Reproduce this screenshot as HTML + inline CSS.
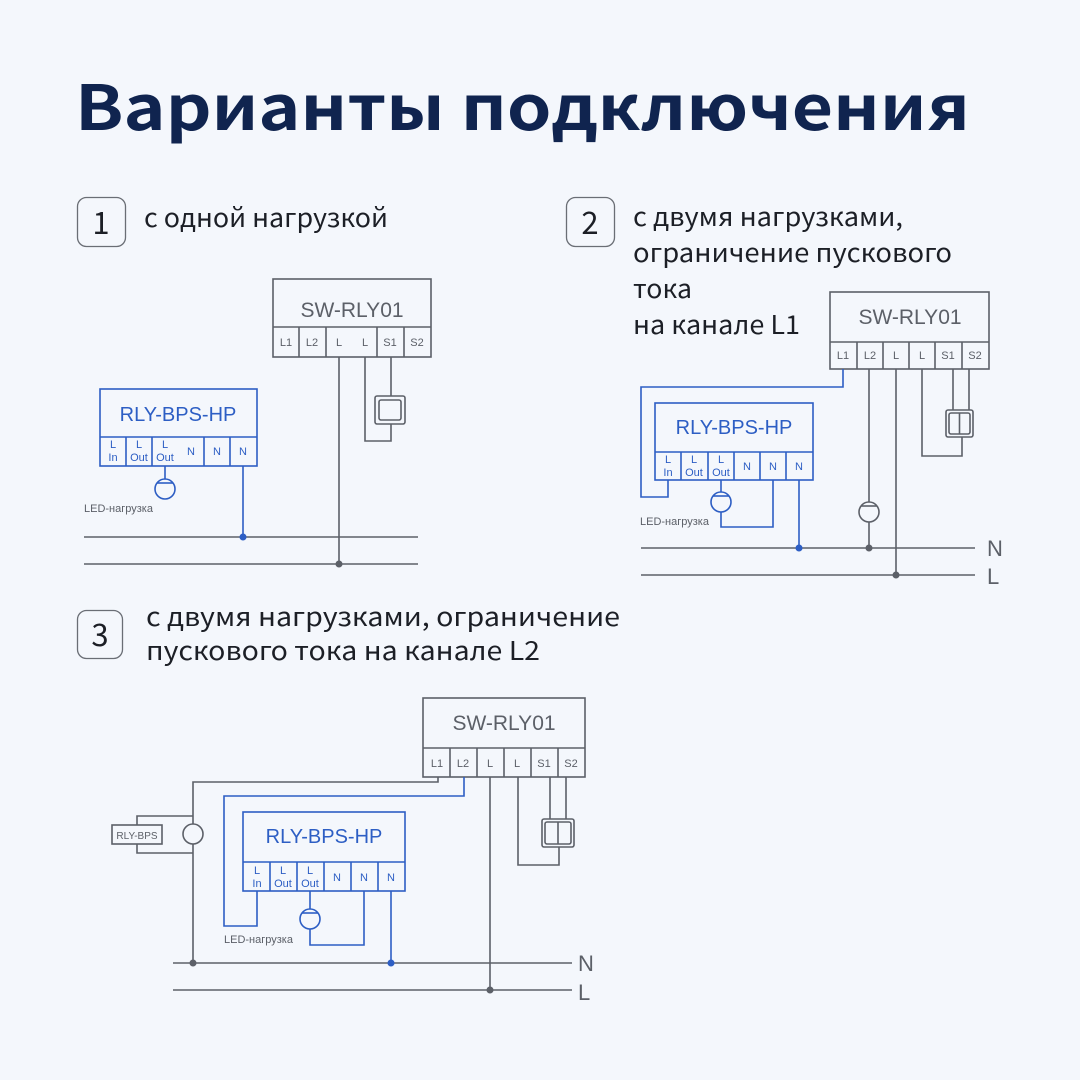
<!DOCTYPE html>
<html><head><meta charset="utf-8"><style>
html,body{margin:0;padding:0;background:#f4f7fc}
svg{display:block}
.h{font-family:"Noto Sans CJK SC","Liberation Sans",sans-serif}
</style></head><body>
<svg width="1080" height="1080" viewBox="0 0 1080 1080" xmlns="http://www.w3.org/2000/svg" font-family="Liberation Sans, sans-serif">
<rect width="1080" height="1080" fill="#f4f7fc"/>
<text class="h" x="75" y="130" font-size="62" font-weight="bold" fill="#10244f" textLength="895" lengthAdjust="spacingAndGlyphs">Варианты подключения</text>

<g fill="none" stroke="#6a6e75" stroke-width="1.3">
<rect x="77.5" y="197.5" width="48" height="49" rx="9"/>
<rect x="566.5" y="197.5" width="48" height="49" rx="9"/>
<rect x="77.5" y="610.5" width="45" height="48" rx="9"/>
</g>
<g class="h" fill="#1c1f26" font-size="26">
<text x="101" y="234" font-size="31" text-anchor="middle">1</text>
<text x="590" y="234" font-size="31" text-anchor="middle">2</text>
<text x="100" y="646" font-size="31" text-anchor="middle">3</text>
<text x="144" y="227" textLength="244" lengthAdjust="spacingAndGlyphs">с одной нагрузкой</text>
<text x="633" y="226" textLength="270" lengthAdjust="spacingAndGlyphs">с двумя нагрузками,</text>
<text x="633" y="262" textLength="319" lengthAdjust="spacingAndGlyphs">ограничение пускового</text>
<text x="633" y="298" textLength="59" lengthAdjust="spacingAndGlyphs">тока</text>
<text x="633" y="334" textLength="167" lengthAdjust="spacingAndGlyphs">на канале L1</text>
<text x="146" y="626" textLength="474" lengthAdjust="spacingAndGlyphs">с двумя нагрузками, ограничение</text>
<text x="146" y="660" textLength="394" lengthAdjust="spacingAndGlyphs">пускового тока на канале L2</text>
</g>

<!-- ===== Diagram 1 ===== -->
<g stroke="#5c6068" stroke-width="1.6" fill="none">
<rect x="273" y="279" width="158" height="78"/>
<line x1="273" y1="327" x2="431" y2="327"/>
<line x1="299" y1="327" x2="299" y2="357"/><line x1="326" y1="327" x2="326" y2="357"/>
<line x1="377" y1="327" x2="377" y2="357"/><line x1="404" y1="327" x2="404" y2="357"/>
<line x1="84" y1="537" x2="418" y2="537"/>
<line x1="84" y1="564" x2="418" y2="564"/>
<line x1="339" y1="357" x2="339" y2="564"/>
<polyline points="365,357 365,441 391,441 391,424"/>
<line x1="391" y1="357" x2="391" y2="396"/>
<rect x="375" y="396" width="30" height="28" rx="2"/>
<rect x="379" y="400" width="22" height="20" rx="2"/>
</g>
<circle cx="339" cy="564" r="3.5" fill="#5c6068"/>
<g fill="#5c6068" font-size="11" text-anchor="middle">
<text x="352" y="317" font-size="21">SW-RLY01</text>
<text x="286" y="346">L1</text><text x="312" y="346">L2</text><text x="339" y="346">L</text><text x="365" y="346">L</text><text x="390" y="346">S1</text><text x="417" y="346">S2</text>
</g>
<g stroke="#2d5ec4" stroke-width="1.6" fill="none">
<rect x="100" y="389" width="157" height="77"/>
<line x1="100" y1="437" x2="257" y2="437"/>
<line x1="126" y1="437" x2="126" y2="466"/><line x1="152" y1="437" x2="152" y2="466"/>
<line x1="204" y1="437" x2="204" y2="466"/><line x1="230" y1="437" x2="230" y2="466"/>
<line x1="243" y1="466" x2="243" y2="537"/>
<line x1="165" y1="466" x2="165" y2="479"/>
<circle cx="165" cy="489" r="10"/>
<line x1="157" y1="483" x2="173" y2="483"/>
</g>
<circle cx="243" cy="537" r="3.5" fill="#2d5ec4"/>
<g fill="#2d5ec4" font-size="11" text-anchor="middle">
<text x="178" y="421" font-size="20">RLY-BPS-HP</text>
<text x="113" y="448">L</text><text x="113" y="461">In</text>
<text x="139" y="448">L</text><text x="139" y="461">Out</text>
<text x="165" y="448">L</text><text x="165" y="461">Out</text>
<text x="191" y="455">N</text><text x="217" y="455">N</text><text x="243" y="455">N</text>
</g>
<text x="84" y="512" font-size="11" fill="#5c6068">LED-нагрузка</text>

<!-- ===== Diagram 2 ===== -->
<g stroke="#5c6068" stroke-width="1.6" fill="none">
<rect x="830" y="292" width="159" height="77"/>
<line x1="830" y1="342" x2="989" y2="342"/>
<line x1="857" y1="342" x2="857" y2="369"/><line x1="883" y1="342" x2="883" y2="369"/>
<line x1="909" y1="342" x2="909" y2="369"/><line x1="935" y1="342" x2="935" y2="369"/>
<line x1="962" y1="342" x2="962" y2="369"/>
<line x1="641" y1="548" x2="975" y2="548"/>
<line x1="641" y1="575" x2="975" y2="575"/>
<line x1="869" y1="369" x2="869" y2="502"/>
<circle cx="869" cy="512" r="10"/>
<line x1="861" y1="506" x2="877" y2="506"/>
<line x1="869" y1="522" x2="869" y2="548"/>
<line x1="896" y1="369" x2="896" y2="575"/>
<polyline points="922,369 922,456 962,456 962,437"/>
<line x1="953" y1="369" x2="953" y2="410"/>
<line x1="969" y1="369" x2="969" y2="410"/>
<rect x="946" y="410" width="27" height="27" rx="2"/>
<rect x="949" y="413" width="21" height="21" rx="2"/>
<line x1="959.5" y1="413" x2="959.5" y2="434"/>
</g>
<circle cx="869" cy="548" r="3.5" fill="#5c6068"/>
<circle cx="896" cy="575" r="3.5" fill="#5c6068"/>
<g fill="#5c6068" font-size="11" text-anchor="middle">
<text x="910" y="324" font-size="21">SW-RLY01</text>
<text x="843" y="359">L1</text><text x="870" y="359">L2</text><text x="896" y="359">L</text><text x="922" y="359">L</text><text x="948" y="359">S1</text><text x="975" y="359">S2</text>
</g>
<text x="987" y="556" font-size="22" fill="#5c6068">N</text>
<text x="987" y="584" font-size="22" fill="#5c6068">L</text>
<g stroke="#2d5ec4" stroke-width="1.6" fill="none">
<rect x="655" y="403" width="158" height="77"/>
<line x1="655" y1="452" x2="813" y2="452"/>
<line x1="681" y1="452" x2="681" y2="480"/><line x1="708" y1="452" x2="708" y2="480"/>
<line x1="734" y1="452" x2="734" y2="480"/><line x1="760" y1="452" x2="760" y2="480"/>
<line x1="786" y1="452" x2="786" y2="480"/>
<polyline points="843,369 843,387 641,387 641,497 668,497 668,480"/>
<line x1="721" y1="480" x2="721" y2="492"/>
<circle cx="721" cy="502" r="10"/>
<line x1="713" y1="496" x2="729" y2="496"/>
<polyline points="721,512 721,527 773,527 773,480"/>
<line x1="799" y1="480" x2="799" y2="548"/>
</g>
<circle cx="799" cy="548" r="3.5" fill="#2d5ec4"/>
<g fill="#2d5ec4" font-size="11" text-anchor="middle">
<text x="734" y="434" font-size="20">RLY-BPS-HP</text>
<text x="668" y="463">L</text><text x="668" y="476">In</text>
<text x="694" y="463">L</text><text x="694" y="476">Out</text>
<text x="721" y="463">L</text><text x="721" y="476">Out</text>
<text x="747" y="470">N</text><text x="773" y="470">N</text><text x="799" y="470">N</text>
</g>
<text x="640" y="525" font-size="11" fill="#5c6068">LED-нагрузка</text>

<!-- ===== Diagram 3 ===== -->
<g stroke="#5c6068" stroke-width="1.6" fill="none">
<rect x="423" y="698" width="162" height="79"/>
<line x1="423" y1="748" x2="585" y2="748"/>
<line x1="450" y1="748" x2="450" y2="777"/><line x1="477" y1="748" x2="477" y2="777"/>
<line x1="504" y1="748" x2="504" y2="777"/><line x1="531" y1="748" x2="531" y2="777"/>
<line x1="558" y1="748" x2="558" y2="777"/>
<line x1="173" y1="963" x2="572" y2="963"/>
<line x1="173" y1="990" x2="572" y2="990"/>
<polyline points="438,777 438,782 193,782 193,824"/>
<circle cx="193" cy="834" r="10"/>
<line x1="193" y1="844" x2="193" y2="963"/>
<polyline points="193,816 137,816 137,825"/>
<polyline points="193,853 137,853 137,844"/>
<rect x="112" y="825" width="50" height="19"/>
<line x1="490" y1="777" x2="490" y2="990"/>
<polyline points="518,777 518,865 559,865 559,847"/>
<line x1="550" y1="777" x2="550" y2="819"/>
<line x1="566" y1="777" x2="566" y2="819"/>
<rect x="542" y="819" width="32" height="28" rx="2"/>
<rect x="545" y="822" width="26" height="22" rx="2"/>
<line x1="558" y1="822" x2="558" y2="844"/>
</g>
<circle cx="193" cy="963" r="3.5" fill="#5c6068"/>
<circle cx="490" cy="990" r="3.5" fill="#5c6068"/>
<g fill="#5c6068" font-size="11" text-anchor="middle">
<text x="504" y="730" font-size="21">SW-RLY01</text>
<text x="437" y="767">L1</text><text x="463" y="767">L2</text><text x="490" y="767">L</text><text x="517" y="767">L</text><text x="544" y="767">S1</text><text x="571" y="767">S2</text>
<text x="137" y="839" font-size="10">RLY-BPS</text>
</g>
<text x="578" y="971" font-size="22" fill="#5c6068">N</text>
<text x="578" y="1000" font-size="22" fill="#5c6068">L</text>
<g stroke="#2d5ec4" stroke-width="1.6" fill="none">
<rect x="243" y="812" width="162" height="79"/>
<line x1="243" y1="862" x2="405" y2="862"/>
<line x1="270" y1="862" x2="270" y2="891"/><line x1="297" y1="862" x2="297" y2="891"/>
<line x1="324" y1="862" x2="324" y2="891"/><line x1="351" y1="862" x2="351" y2="891"/>
<line x1="378" y1="862" x2="378" y2="891"/>
<polyline points="464,777 464,796 224,796 224,926 257,926 257,891"/>
<line x1="310" y1="891" x2="310" y2="909"/>
<circle cx="310" cy="919" r="10"/>
<line x1="302" y1="913" x2="318" y2="913"/>
<polyline points="310,929 310,945 364,945 364,891"/>
<line x1="391" y1="891" x2="391" y2="963"/>
</g>
<circle cx="391" cy="963" r="3.5" fill="#2d5ec4"/>
<g fill="#2d5ec4" font-size="11" text-anchor="middle">
<text x="324" y="843" font-size="20">RLY-BPS-HP</text>
<text x="257" y="874">L</text><text x="257" y="887">In</text>
<text x="283" y="874">L</text><text x="283" y="887">Out</text>
<text x="310" y="874">L</text><text x="310" y="887">Out</text>
<text x="337" y="881">N</text><text x="364" y="881">N</text><text x="391" y="881">N</text>
</g>
<text x="224" y="943" font-size="11" fill="#5c6068">LED-нагрузка</text>
</svg>
</body></html>
